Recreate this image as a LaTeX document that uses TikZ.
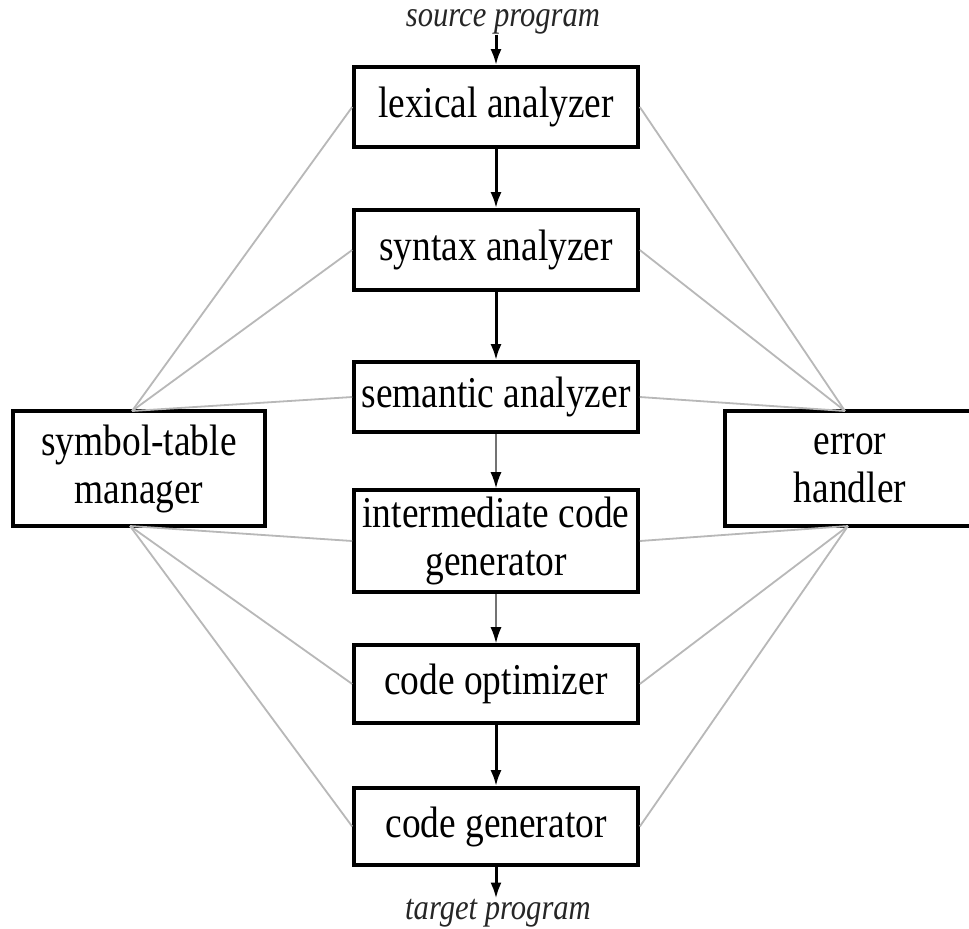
\documentclass[tikz,border=0pt]{standalone}
\usepackage{fontspec}
\setmainfont{Liberation Serif}[FakeStretch=0.85]
\usetikzlibrary{arrows.meta,calc}
\begin{document}
\begin{tikzpicture}[x=0.5pt,y=-0.5pt,
  box/.style={draw=black, line width=1.8pt, inner sep=0pt, align=center,
    font=\fontsize{22}{24}\selectfont},
  flow/.style={line width=1.5pt, -{Latex[length=8pt,width=5.5pt]}},
  thinflow/.style={line width=0.8pt, draw=black!55, -{Latex[length=8pt,width=5.5pt,fill=black,color=black]}},
  link/.style={draw=black!28, line width=0.9pt},
  lbl/.style={font=\fontsize{18}{20}\selectfont\itshape, inner sep=0pt, text=black!85}]
\useasboundingbox (0,0) rectangle (969,928);
\clip (0,0) rectangle (969,928);
\fill[white] (0,0) rectangle (969,928);

\node[box, minimum width=142pt, minimum height=40pt] (lex) at (496,107) {lexical analyzer};
\node[box, minimum width=142pt, minimum height=40pt] (syn) at (496,250) {syntax analyzer};
\node[box, minimum width=142pt, minimum height=35pt] (sem) at (496,397) {semantic analyzer};
\node[box, minimum width=142pt, minimum height=51pt] (inter) at (496,541) {intermediate code\\generator};
\node[box, minimum width=142pt, minimum height=39pt] (opt) at (496,684) {code optimizer};
\node[box, minimum width=142pt, minimum height=38.5pt] (gen) at (496,826.5) {code generator};

\node[box, minimum width=126pt, minimum height=57.5pt] (sym) at (139,468.5) {symbol-table\\manager};
\node[box, minimum width=150pt, minimum height=57.5pt] (err) at (875,468.5) {};
\node[align=center, font=\fontsize{22}{24}\selectfont, inner sep=0pt] (errtxt) at (850,468.5) {error\\handler};

\node[lbl] (src) at (503,22) {source program};
\node[lbl] (tgt) at (498,913) {target program};

\coordinate (symtop) at (132,411);
\coordinate (symbot) at (130,526);
\coordinate (errtop) at (845,411);
\coordinate (errbot) at (848,526);

\draw[link] (symtop) -- (lex.west);
\draw[link] (symtop) -- (syn.west);
\draw[link] (symtop) -- (sem.west);
\draw[link] (symbot) -- (inter.west);
\draw[link] (symbot) -- (opt.west);
\draw[link] (symbot) -- (gen.west);
\draw[link] (errtop) -- (lex.east);
\draw[link] (errtop) -- (syn.east);
\draw[link] (errtop) -- (sem.east);
\draw[link] (errbot) -- (inter.east);
\draw[link] (errbot) -- (opt.east);
\draw[link] (errbot) -- (gen.east);

\draw[flow] (src.south -| lex.north) -- (lex.north);
\draw[flow] (lex) -- (syn);
\draw[flow] (syn) -- (sem);
\draw[thinflow] (sem) -- (inter);
\draw[thinflow] (inter) -- (opt);
\draw[flow] (opt) -- (gen);
\draw[flow] (gen.south) -- (gen.south |- tgt.north);
\end{tikzpicture}
\end{document}
